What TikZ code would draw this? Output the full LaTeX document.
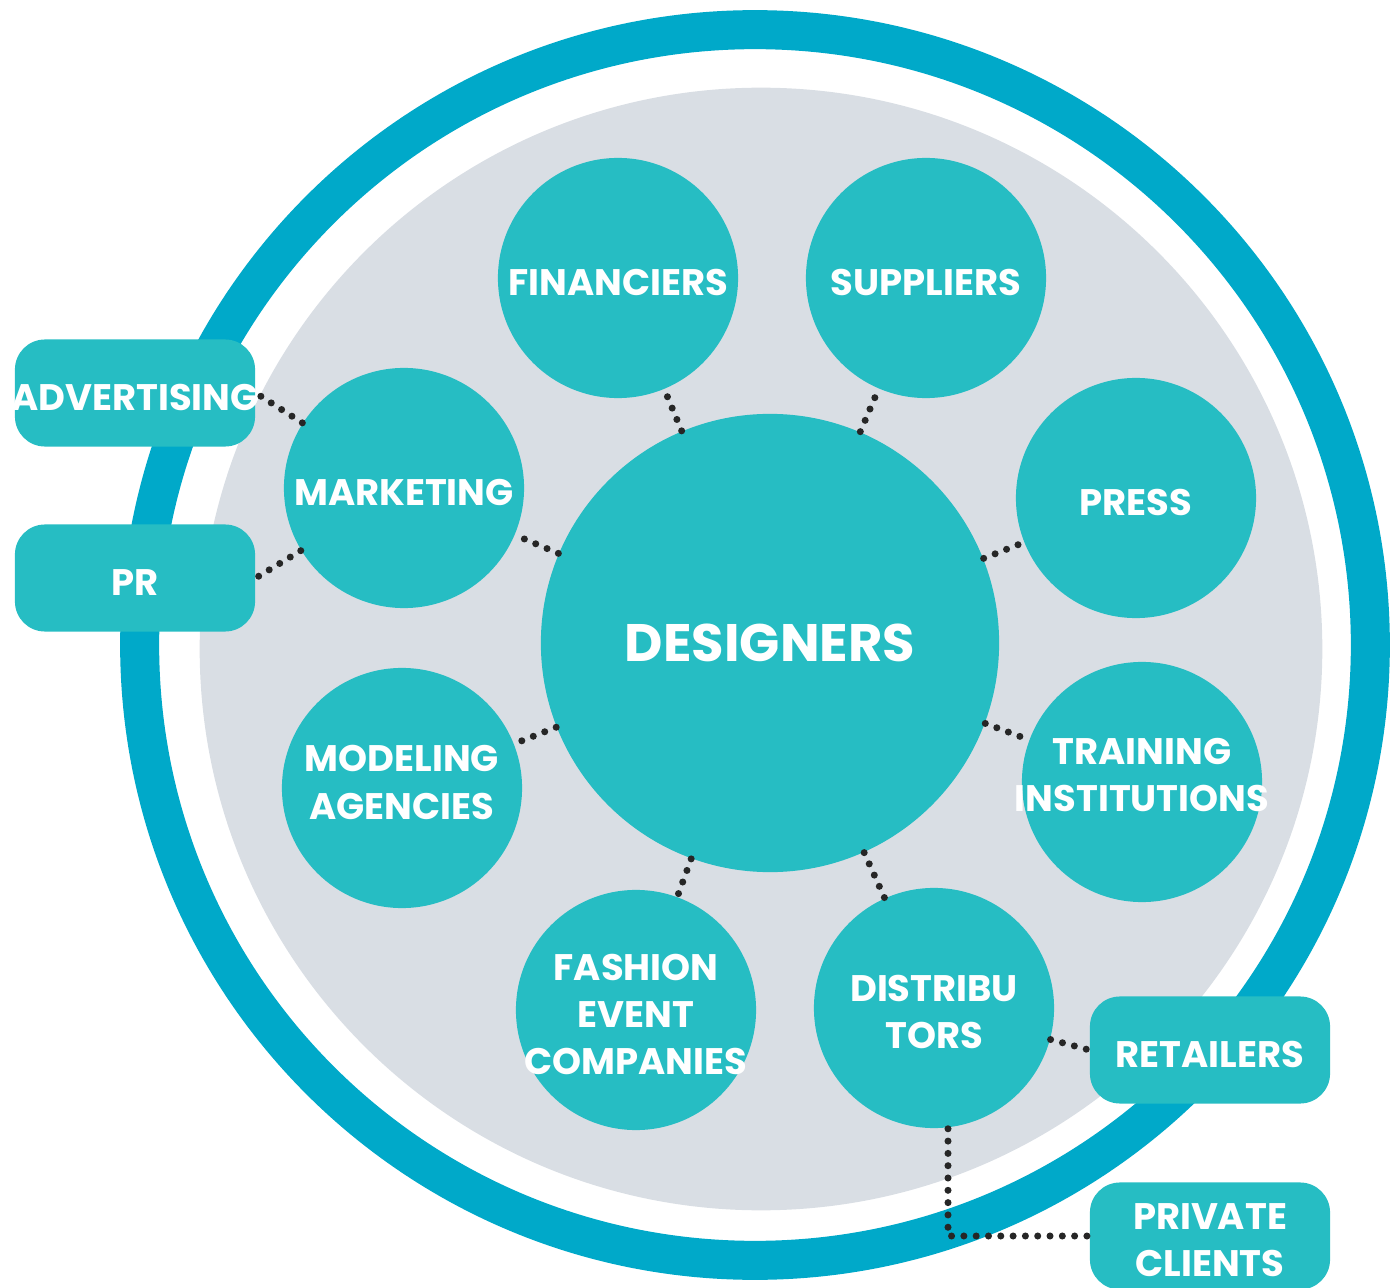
\documentclass[tikz,border=0pt]{standalone}
\usepackage{fontspec}
\setmainfont{Poppins}
\definecolor{ringblue}{HTML}{00A9C9}
\definecolor{teal}{HTML}{26BDC3}
\definecolor{backgray}{HTML}{D9DEE4}
% label that does not widen its node
\newcommand{\lbl}[2][-5pt]{\raisebox{#1}[0pt][0pt]{\makebox[0pt]{\begin{tabular}{@{}c@{}}#2\end{tabular}}}}
\begin{document}
\begin{tikzpicture}[x=0.01cm, y=-0.01cm,
    actor/.style={circle, fill=teal, text=white, minimum size=2.4cm, inner sep=0pt,
        font=\fontsize{10.5}{13.4}\selectfont\bfseries},
    hub/.style={circle, fill=teal, text=white, minimum size=4.58cm, inner sep=0pt,
        font=\fontsize{15}{18}\selectfont\bfseries},
    outer/.style={rectangle, rounded corners=0.3cm, fill=teal, text=white,
        minimum width=2.4cm, minimum height=1.07cm, inner sep=0pt,
        font=\fontsize{10.5}{13.4}\selectfont\bfseries},
    link/.style={draw=black!85, line width=2pt, line cap=round, dash pattern=on 0pt off 3.5pt}]
    \useasboundingbox (0,0) rectangle (1390,1288);

    % Rings
    \draw[ringblue, line width=0.39cm] (755,645) circle (6.15cm);
    \fill[backgray] (761,649) circle (5.61cm);

    % Outer partners
    \node[outer] (adv) at (135,393) {\lbl{ADVERTISING}};
    \node[outer] (pr) at (135,578) {\lbl{PR}};
    \node[outer] (ret) at (1210,1050) {\lbl{RETAILERS}};
    \node[outer] (priv) at (1210,1236) {\lbl{PRIVATE\\CLIENTS}};

    % Circles
    \node[hub] (des) at (770,643) {DESIGNERS};
    \node[actor] (fin) at (618,278) {\lbl{FINANCIERS}};
    \node[actor] (sup) at (926,278) {\lbl{SUPPLIERS}};
    \node[actor] (press) at (1136,498) {\lbl{PRESS}};
    \node[actor] (train) at (1142,782) {\lbl[-1.8pt]{TRAINING\\INSTITUTIONS}};
    \node[actor] (dist) at (934,1008) {\lbl{DISTRIBU\\TORS}};
    \node[actor] (fash) at (636,1010) {\lbl{FASHION\\EVENT\\COMPANIES}};
    \node[actor] (model) at (402,788) {\lbl[-2.2pt]{MODELING\\AGENCIES}};
    \node[actor] (mkt) at (404,488) {\lbl{MARKETING}};

    % Links
    \foreach \n in {fin,sup,press,train,dist,fash,model,mkt}
        \draw[link] (des) -- (\n);
    \draw[link] (mkt) -- (adv.east);
    \draw[link] (mkt) -- (pr.east);
    \draw[link] (dist) -- (ret.west);
    \draw[link] ([xshift=0.14cm]dist.south) |- (priv.west);
\end{tikzpicture}
\end{document}
